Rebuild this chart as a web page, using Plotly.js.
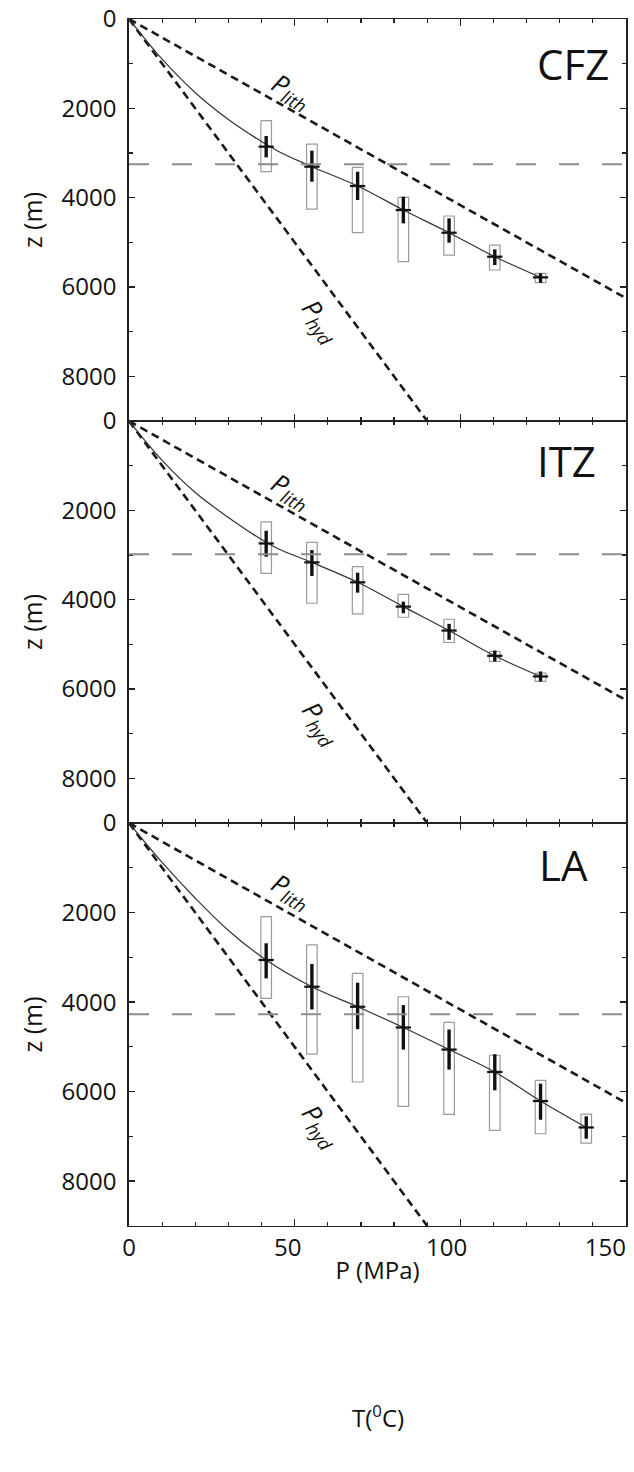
<!DOCTYPE html>
<html>
<head>
<meta charset="utf-8">
<script src="https://cdn.plot.ly/plotly-3.0.1.min.js"></script>
<style>html,body{margin:0;padding:0;background:#fff;}#chart{width:634px;height:1472px;}</style>
</head>
<body>
<div id="chart"></div>
<script>
// ---- Data ----
const panelNames = ["CFZ", "ITZ", "LA"];
const pressure = [41.4, 55.2, 69.0, 82.8, 96.6, 110.4, 124.2, 138.0]; // MPa

// Reference pressure lines (P, z) end points
const plithP = [0, 150];
const plithZ = [0, 6250];
const phydP = [0, 90];
const phydZ = [0, 9000];

// CFZ
const cfzDepth  = [2858, 3306, 3739, 4276, 4784, 5321, 5784];
const cfzBoxTop = [2276, 2799, 3321, 3993, 4410, 5060, 5694];
const cfzBoxBot = [3418, 4254, 4784, 5433, 5284, 5619, 5903];
const cfzBarTop = [2619, 2948, 3418, 3978, 4463, 5157, 5694];
const cfzBarBot = [3097, 3642, 4052, 4575, 5007, 5507, 5903];
const cfzCurveP = [0, 10, 20, 30, 38, 45, 55.2, 69.0, 82.8, 96.6, 110.4, 124.2];
const cfzCurveZ = [0, 900, 1650, 2250, 2650, 2960, 3306, 3739, 4276, 4784, 5321, 5784];
const cfzLevel = 3250;

// ITZ
const itzDepth  = [2740, 3165, 3611, 4155, 4691, 5257, 5719];
const itzBoxTop = [2256, 2718, 3261, 3879, 4438, 5160, 5644];
const itzBoxBot = [3410, 4080, 4319, 4393, 4959, 5384, 5830];
const itzBarTop = [2457, 2889, 3395, 4043, 4542, 5138, 5607];
const itzBarBot = [3038, 3470, 3842, 4304, 4899, 5384, 5830];
const itzCurveP = [0, 10, 20, 30, 38, 45, 55.2, 69.0, 82.8, 96.6, 110.4, 124.2];
const itzCurveZ = [0, 880, 1600, 2160, 2560, 2860, 3165, 3611, 4155, 4691, 5257, 5719];
const itzLevel = 2980;

// LA
const laDepth  = [3060, 3657, 4104, 4567, 5060, 5560, 6209, 6800];
const laBoxTop = [2090, 2724, 3358, 3881, 4455, 5187, 5746, 6500];
const laBoxBot = [3918, 5164, 5784, 6328, 6507, 6866, 6940, 7150];
const laBarTop = [2687, 3149, 3567, 4067, 4612, 5164, 5821, 6550];
const laBarBot = [3470, 4164, 4604, 5060, 5507, 5970, 6627, 7050];
const laCurveP = [0, 10, 20, 30, 41.4, 55.2, 69.0, 82.8, 96.6, 110.4, 124.2, 138.0];
const laCurveZ = [0, 880, 1680, 2400, 3060, 3657, 4104, 4567, 5060, 5560, 6209, 6800];
const laLevel = 4270;

const yTickVals = [0, 2000, 4000, 6000, 8000];
const xTickVals = [0, 50, 100, 150];
const xTickText = ["0", "50\u2007", "100\u2007\u2007", "150\u2007\u2007\u2007"];

// ---- Styling ----
const FONT = "Open Sans, Noto Sans, sans-serif";
const BOX_HALF = 1.6;     // MPa, half width of grey boxes
const ARM = 2.3;          // MPa, horizontal arm of crosses

const panels = [
  {depth: cfzDepth, boxTop: cfzBoxTop, boxBot: cfzBoxBot, barTop: cfzBarTop, barBot: cfzBarBot, cP: cfzCurveP, cZ: cfzCurveZ, level: cfzLevel},
  {depth: itzDepth, boxTop: itzBoxTop, boxBot: itzBoxBot, barTop: itzBarTop, barBot: itzBarBot, cP: itzCurveP, cZ: itzCurveZ, level: itzLevel},
  {depth: laDepth,  boxTop: laBoxTop,  boxBot: laBoxBot,  barTop: laBarTop,  barBot: laBarBot,  cP: laCurveP,  cZ: laCurveZ,  level: laLevel}
];

const traces = [];
const shapes = [];
const annotations = [];

panels.forEach((pd, i) => {
  const xa = i === 0 ? "x" : "x" + (i + 1);
  const ya = i === 0 ? "y" : "y" + (i + 1);
  const n = pd.depth.length;
  const P = pressure.slice(0, n);

  // Plith and Phyd dashed lines
  traces.push({x: plithP, y: plithZ, xaxis: xa, yaxis: ya, mode: "lines",
    line: {color: "#1a1a1a", width: 2.6, dash: "8px,5px"}, hoverinfo: "skip"});
  traces.push({x: phydP, y: phydZ, xaxis: xa, yaxis: ya, mode: "lines",
    line: {color: "#1a1a1a", width: 2.6, dash: "8px,5px"}, hoverinfo: "skip"});

  // grey boxes
  const bx = [], by = [];
  for (let k = 0; k < n; k++) {
    bx.push(P[k] - BOX_HALF, P[k] + BOX_HALF, P[k] + BOX_HALF, P[k] - BOX_HALF, P[k] - BOX_HALF, null);
    by.push(pd.boxTop[k], pd.boxTop[k], pd.boxBot[k], pd.boxBot[k], pd.boxTop[k], null);
  }
  traces.push({x: bx, y: by, xaxis: xa, yaxis: ya, mode: "lines",
    line: {color: "#9a9a9a", width: 1.2}, hoverinfo: "skip"});

  // fitted curve
  traces.push({x: pd.cP, y: pd.cZ, xaxis: xa, yaxis: ya, mode: "lines",
    line: {color: "#333", width: 1.2, shape: "spline", smoothing: 1}, hoverinfo: "skip"});

  // crosses (error bars)
  traces.push({x: P, y: pd.depth, xaxis: xa, yaxis: ya, mode: "markers",
    marker: {size: 1, color: "#111"},
    error_y: {type: "data", symmetric: false,
      array: pd.barBot.map((v, k) => v - pd.depth[k]),
      arrayminus: pd.barTop.map((v, k) => pd.depth[k] - v),
      color: "#111", thickness: 3.4, width: 0},
    error_x: {type: "constant", value: ARM, color: "#111", thickness: 2.2, width: 0},
    hoverinfo: "skip"});

  // grey horizontal dashed level
  shapes.push({type: "line", xref: xa + " domain", yref: ya, x0: 0, x1: 1, y0: pd.level, y1: pd.level,
    line: {color: "#8c8c8c", width: 2, dash: "20px,23px"}});

  // labels
  annotations.push({xref: xa, yref: ya, x: 49, y: [1620, 1560, 1520][i], showarrow: false,
    text: "<i>P</i><sub><i>lith</i></sub>", textangle: 30, font: {family: FONT, size: 26, color: "#111"}});
  annotations.push({xref: xa, yref: ya, x: 58, y: [6750, 6760, 6760][i], showarrow: false,
    text: "<i>P</i><sub><i>hyd</i></sub>", textangle: 54, font: {family: FONT, size: 26, color: "#111"}});
  annotations.push({xref: xa, yref: ya, x: [134, 132, 131][i], y: [1000, 880, 930][i], showarrow: false,
    text: panelNames[i], font: {family: FONT, size: 42, color: "#111"}});
});

annotations.push({xref: "paper", yref: "paper", x: 0.5, y: -0.174, showarrow: false,
  text: "T(<sup>0</sup>C)", font: {family: FONT, size: 24, color: "#111"}});

function xAxis(i) {
  const ax = {
    domain: [0, 1], range: [0, 150], anchor: i === 0 ? "y" : "y" + (i + 1),
    showline: true, linecolor: "#222", linewidth: 1.3, mirror: "ticks",
    ticks: "inside", ticklen: 7, tickwidth: 1.5, tickcolor: "#222",
    tickvals: xTickVals, ticktext: xTickText, showticklabels: i === 2,
    ticklabeloverflow: "allow",
    minor: {dtick: 10, ticks: "inside", ticklen: 4, tickwidth: 1.2, tickcolor: "#222"},
    showgrid: false, zeroline: false,
    tickfont: {family: FONT, size: 24, color: "#111"}
  };
  if (i === 2) ax.title = {text: "P (MPa)", font: {family: FONT, size: 24, color: "#111"}, standoff: 0};
  return ax;
}
const domains = [[0.6669, 1], [0.3339, 0.6669], [0, 0.3339]];
function yAxis(i) {
  return {
    domain: domains[i], range: [9000, 0], anchor: i === 0 ? "x" : "x" + (i + 1),
    showline: true, linecolor: "#222", linewidth: 1.8, mirror: "ticks",
    ticks: "inside", ticklen: 6, tickwidth: 1.5, tickcolor: "#222",
    tickvals: yTickVals, ticktext: yTickVals.map(String),
    ticklabeloverflow: "allow",
    minor: {dtick: 1000, ticks: "inside", ticklen: 4, tickwidth: 1.2, tickcolor: "#222"},
    showgrid: false, zeroline: false,
    tickfont: {family: FONT, size: 24, color: "#111"},
    ticklabelstandoff: 6,
    title: {text: "z (m)", font: {family: FONT, size: 25, color: "#111"}, standoff: 12}
  };
}

const layout = {
  width: 634, height: 1472,
  margin: {l: 129, r: 8, t: 19, b: 246},
  paper_bgcolor: "#fff", plot_bgcolor: "#fff",
  showlegend: false,
  xaxis: xAxis(0), xaxis2: xAxis(1), xaxis3: xAxis(2),
  yaxis: yAxis(0), yaxis2: yAxis(1), yaxis3: yAxis(2),
  shapes: shapes, annotations: annotations,
  font: {family: FONT, color: "#111"}
};

Plotly.newPlot("chart", traces, layout, {displayModeBar: false, staticPlot: true});
</script>
</body>
</html>
